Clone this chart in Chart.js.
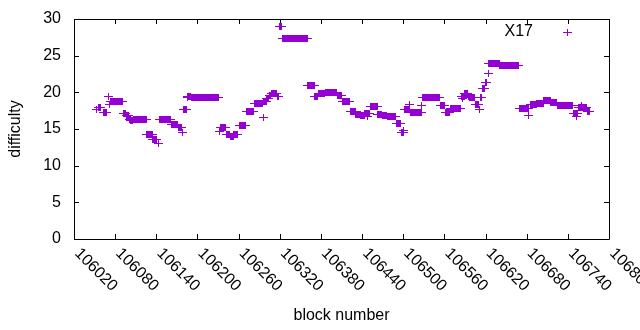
<!DOCTYPE html>
<html>
<head>
<meta charset="utf-8">
<script src="https://cdn.jsdelivr.net/npm/chart.js@4.4.1/dist/chart.umd.min.js"></script>
<style>
  html, body { margin: 0; padding: 0; background: #fff; }
  #wrap { width: 640px; height: 330px; }
</style>
</head>
<body>
<div id="wrap"><canvas id="grafica"></canvas></div>
<script>
// Tramos de bloques con la misma dificultad
const bloqueInicio = [
  106053, 106055, 106063, 106071, 106072, 106073, 106092, 106096, 106101, 106103,
  106107, 106126, 106135, 106143, 106145, 106162, 106172, 106178, 106180, 106185,
  106186, 106191, 106232, 106233, 106242, 106248, 106253, 106262, 106272, 106283,
  106296, 106297, 106301, 106305, 106308, 106316, 106319, 106324, 106361, 106371,
  106376, 106386, 106404, 106411, 106423, 106431, 106438, 106444, 106448, 106452,
  106463, 106470, 106477, 106490, 106497, 106500, 106502, 106509, 106510, 106527,
  106528, 106554, 106561, 106569, 106585, 106586, 106590, 106595, 106596, 106605,
  106611, 106612, 106615, 106620, 106624, 106625, 106634, 106641, 106669, 106683,
  106685, 106695, 106705, 106715, 106725, 106748, 106752, 106755, 106760, 106768
];
const bloqueFin = [
  106053, 106058, 106068, 106071, 106072, 106091, 106095, 106100, 106102, 106106,
  106125, 106134, 106141, 106143, 106161, 106171, 106177, 106178, 106184, 106185,
  106190, 106230, 106232, 106241, 106247, 106252, 106259, 106270, 106282, 106295,
  106296, 106300, 106304, 106307, 106315, 106318, 106323, 106360, 106370, 106375,
  106385, 106403, 106410, 106422, 106430, 106437, 106443, 106451, 106448, 106462,
  106469, 106476, 106489, 106496, 106501, 106500, 106509, 106509, 106526, 106527,
  106553, 106560, 106568, 106584, 106589, 106586, 106594, 106595, 106604, 106610,
  106611, 106614, 106619, 106622, 106624, 106633, 106640, 106668, 106682, 106683,
  106694, 106704, 106714, 106724, 106747, 106754, 106752, 106767, 106760, 106772
];
const dificultad = [
  17.6, 17.95, 17.25, 19.4, 18.4, 18.8, 17.05, 16.8, 16.3, 16.1,
  16.3, 14.2, 13.6, 13.05, 16.3, 15.6, 15.2, 14.5, 17.7, 19.3,
  19.5, 19.35, 14.6, 15.2, 14.2, 13.95, 14.2, 15.5, 17.4, 18.5,
  16.6, 18.7, 19.1, 19.6, 19.9, 19.5, 29.0, 27.4, 21.0, 19.5,
  19.8, 20.0, 19.55, 18.8, 17.4, 17.0, 16.85, 17.1, 16.7, 18.05,
  17.0, 16.8, 16.75, 15.8, 14.55, 14.8, 17.65, 18.4, 17.2, 18.2,
  19.35, 18.25, 17.3, 17.85, 19.5, 19.1, 19.9, 19.5, 19.3, 18.4,
  17.65, 19.35, 20.5, 21.4, 22.6, 23.9, 24.0, 23.65, 17.8, 16.9,
  18.35, 18.5, 18.85, 18.6, 18.2, 17.1, 16.7, 17.9, 18.2, 17.4
];

const xTicks = [106020, 106080, 106140, 106200, 106260, 106320, 106380,
                106440, 106500, 106560, 106620, 106680, 106740, 106800];
const yTicks = [0, 5, 10, 15, 20, 25, 30];
const serieNombre = 'X17';

const COLOR = '#9400d3';
const FUENTE = '"Liberation Sans", Arial, sans-serif';

// un punto por bloque
const puntos = [];
bloqueInicio.forEach((ini, i) => {
  for (let b = ini; b <= bloqueFin[i]; b++) puntos.push({ x: b, y: dificultad[i] });
});

// marcador "+" estilo gnuplot
function crearCruz() {
  const c = document.createElement('canvas');
  c.width = 9; c.height = 7;
  const g = c.getContext('2d');
  g.fillStyle = COLOR;
  g.fillRect(0, 3, 9, 1);
  g.fillRect(4, 0, 1, 7);
  return c;
}
const cruz = crearCruz();

const marcoGnuplot = {
  id: 'marcoGnuplot',
  beforeDatasetsDraw(chart) {
    const { ctx, chartArea: a, scales: { x, y } } = chart;
    ctx.save();
    ctx.strokeStyle = '#000';
    ctx.lineWidth = 1;
    ctx.beginPath();
    ctx.rect(a.left + 0.5, a.top + 0.5, a.right - a.left, a.bottom - a.top);
    xTicks.forEach(v => {
      const px = Math.round(x.getPixelForValue(v)) + 0.5;
      ctx.moveTo(px, a.bottom); ctx.lineTo(px, a.bottom - 5);
      ctx.moveTo(px, a.top); ctx.lineTo(px, a.top + 5);
    });
    yTicks.forEach(v => {
      const py = Math.round(y.getPixelForValue(v)) + 0.5;
      ctx.moveTo(a.left, py); ctx.lineTo(a.left + 5, py);
      ctx.moveTo(a.right, py); ctx.lineTo(a.right - 5, py);
    });
    ctx.stroke();
    ctx.restore();
    ctx.save();
    ctx.imageSmoothingEnabled = false;
  },
  afterDatasetsDraw(chart) {
    chart.ctx.restore();
  },
  afterDraw(chart) {
    const { ctx, chartArea: a, scales: { x } } = chart;
    ctx.save();
    ctx.fillStyle = '#000';
    ctx.font = '16px ' + FUENTE;
    // etiquetas del eje x giradas -45 grados
    ctx.textAlign = 'left';
    ctx.textBaseline = 'middle';
    xTicks.forEach(v => {
      const px = x.getPixelForValue(v);
      ctx.save();
      ctx.translate(px + 3, a.bottom + 12);
      ctx.rotate(Math.PI / 4);
      ctx.fillText(String(v), 0, 0);
      ctx.restore();
    });
    // leyenda
    ctx.textAlign = 'right';
    ctx.fillText(chart.data.datasets[0].label, 533, 32);
    ctx.imageSmoothingEnabled = false;
    ctx.drawImage(cruz, 563, 29);
    ctx.restore();
  }
};

new Chart(document.getElementById('grafica'), {
  type: 'scatter',
  data: {
    datasets: [{
      label: serieNombre,
      data: puntos,
      pointStyle: cruz,
      pointRadius: 4,
      pointHoverRadius: 4
    }]
  },
  options: {
    responsive: true,
    maintainAspectRatio: false,
    animation: false,
    layout: { padding: { top: 19, right: 31, left: 0, bottom: 0 } },
    plugins: {
      legend: { display: false },
      tooltip: { enabled: false }
    },
    scales: {
      x: {
        type: 'linear',
        min: 106020,
        max: 106800,
        afterBuildTicks: s => { s.ticks = xTicks.map(v => ({ value: v })); },
        afterFit: s => { s.height = 91; s.paddingLeft = 0; s.paddingRight = 0; },
        grid: { display: false, drawTicks: false },
        border: { display: false },
        ticks: { display: false },
        title: {
          display: true,
          text: 'block number',
          color: '#000',
          font: { family: FUENTE, size: 16 },
          padding: { top: 0, bottom: 5 }
        }
      },
      y: {
        min: 0,
        max: 30,
        afterBuildTicks: s => { s.ticks = yTicks.map(v => ({ value: v })); },
        afterFit: s => { s.width = 74; s.paddingTop = 0; s.paddingBottom = 0; },
        grid: { display: false, drawTicks: false },
        border: { display: false },
        ticks: {
          color: '#000',
          padding: 13,
          font: { family: FUENTE, size: 16 }
        },
        title: {
          display: true,
          text: 'difficulty',
          color: '#000',
          font: { family: FUENTE, size: 16 },
          padding: { top: 6, bottom: 0 }
        }
      }
    }
  },
  plugins: [marcoGnuplot]
});
</script>
</body>
</html>
